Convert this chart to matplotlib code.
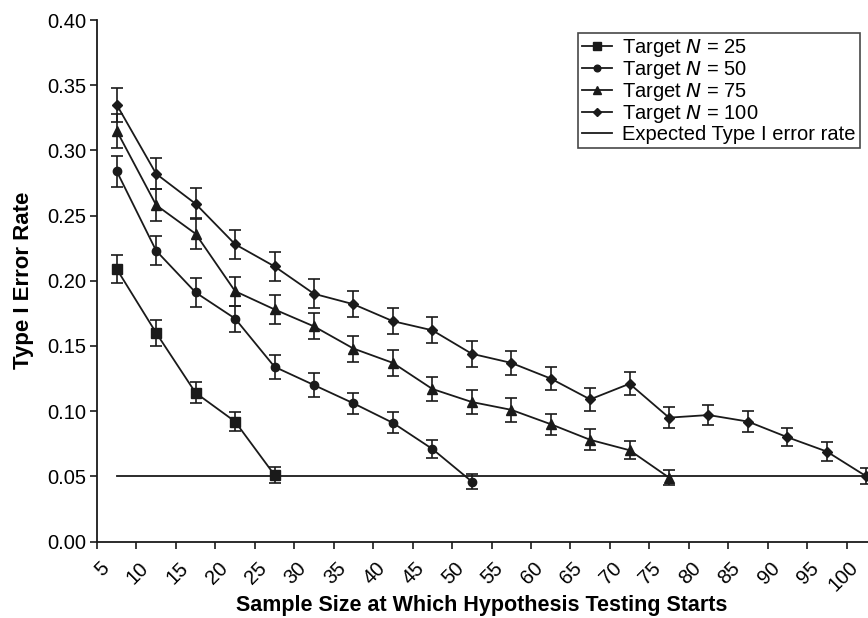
import numpy as np
import matplotlib
matplotlib.use("Agg")
import matplotlib.pyplot as plt
import matplotlib.transforms as mtransforms
from matplotlib.lines import Line2D
from matplotlib.ticker import FixedLocator, NullFormatter

plt.rcParams['font.family'] = ['Liberation Sans', 'DejaVu Sans']

# categories: sample size at which hypothesis testing starts
start_sizes = [5, 10, 15, 20, 25, 30, 35, 40, 45, 50,
               55, 60, 65, 70, 75, 80, 85, 90, 95, 100]

# Type I error rates, with error bar half-widths
n25 = [0.209, 0.160, 0.114, 0.092, 0.051]
n25_err = [0.011, 0.010, 0.008, 0.007, 0.006]

n50 = [0.284, 0.223, 0.191, 0.171, 0.134, 0.120, 0.106, 0.091, 0.071, 0.046]
n50_err = [0.012, 0.011, 0.011, 0.010, 0.009, 0.009, 0.008, 0.008, 0.007, 0.006]

n75 = [0.315, 0.258, 0.236, 0.192, 0.178, 0.165, 0.148, 0.137, 0.117, 0.107,
       0.101, 0.090, 0.078, 0.070, 0.049]
n75_err = [0.013, 0.012, 0.012, 0.011, 0.011, 0.010, 0.010, 0.010, 0.009, 0.009,
           0.009, 0.008, 0.008, 0.007, 0.006]

n100 = [0.335, 0.282, 0.259, 0.228, 0.211, 0.190, 0.182, 0.169, 0.162, 0.144,
        0.137, 0.125, 0.109, 0.121, 0.095, 0.097, 0.092, 0.080, 0.069, 0.050]
n100_err = [0.013, 0.012, 0.012, 0.011, 0.011, 0.011, 0.010, 0.010, 0.010, 0.010,
            0.009, 0.009, 0.009, 0.009, 0.008, 0.008, 0.008, 0.007, 0.007, 0.006]

expected_rate = 0.05

series = [
        (n25, n25_err, 's', 7, 'Target $\\it{N}$ = 25'),
        (n50, n50_err, 'o', 6, 'Target $\\it{N}$ = 50'),
        (n75, n75_err, '^', 6.5, 'Target $\\it{N}$ = 75'),
        (n100, n100_err, 'D', 5, 'Target $\\it{N}$ = 100'),
]

fig = plt.figure(figsize=(8.68, 6.18), dpi=100)
ax = fig.add_axes([97/868, 76.5/618, 789/868, 521.5/618])

col = '#1a1a1a'
handles = []
for vals, errs, mk, ms, lab in series:
        x = np.arange(len(vals))
        ax.errorbar(x, vals, yerr=errs, color=col, marker=mk, markersize=ms,
                    linewidth=1.3, elinewidth=1.2, capsize=4, capthick=1.2,
                    zorder=3)
        handles.append(Line2D([], [], color=col, marker=mk, markersize=ms * 0.8,
                              linewidth=1.3, label=lab))

ax.plot([0, len(start_sizes) - 1], [expected_rate, expected_rate], color=col,
        linewidth=1.3, zorder=2)
handles.append(Line2D([], [], color=col, linewidth=1.3, label='Expected Type I error rate'))

ax.set_xlim(-0.5, len(start_sizes) - 0.5)
ax.set_ylim(0, 0.40)
ax.set_yticks(np.arange(0, 0.401, 0.05))
ax.set_yticklabels(['%.2f' % v for v in np.arange(0, 0.401, 0.05)], fontsize=14.5)

ax.set_xticks(np.arange(len(start_sizes)))
ax.set_xticklabels([str(s) for s in start_sizes], rotation=45, ha='right',
                   va='top', fontsize=14.5)
ax.tick_params(axis='x', which='major', length=0, pad=12)
shift = mtransforms.ScaledTranslation(-4/100, 0, fig.dpi_scale_trans)
for lbl in ax.get_xticklabels():
        lbl.set_transform(lbl.get_transform() + shift)
ax.xaxis.set_minor_locator(FixedLocator(np.arange(-0.5, len(start_sizes), 1.0)))
ax.xaxis.set_minor_formatter(NullFormatter())
ax.tick_params(axis='x', which='minor', direction='out', length=5, width=1.2, color=col)
ax.tick_params(axis='y', direction='out', length=5, width=1.2, color=col, pad=3)

for side in ['top', 'right']:
        ax.spines[side].set_visible(False)
for side in ['left', 'bottom']:
        ax.spines[side].set_linewidth(1.3)
        ax.spines[side].set_color(col)

ax.set_ylabel('Type I Error Rate', fontsize=16, fontweight='bold')
ax.yaxis.set_label_coords(-(97 - 34) / 789, 0.5)
ax.set_xlabel('Sample Size at Which Hypothesis Testing Starts', fontsize=15.5,
              fontweight='bold')
ax.xaxis.set_label_coords((482 - 97) / 789, -(595 - 541.5) / 521.5)

leg = ax.legend(handles=handles, loc='upper left',
                bbox_to_anchor=((578 - 97) / 789, 1 - (33 - 20) / 521.5),
                fontsize=14.5, frameon=True, fancybox=False, handlelength=1.5,
                borderpad=0.2, labelspacing=0.0, handletextpad=0.5,
                borderaxespad=0)
leg.get_frame().set_edgecolor(col)
leg.get_frame().set_linewidth(1.2)

fig.savefig('out.png', dpi=100)
